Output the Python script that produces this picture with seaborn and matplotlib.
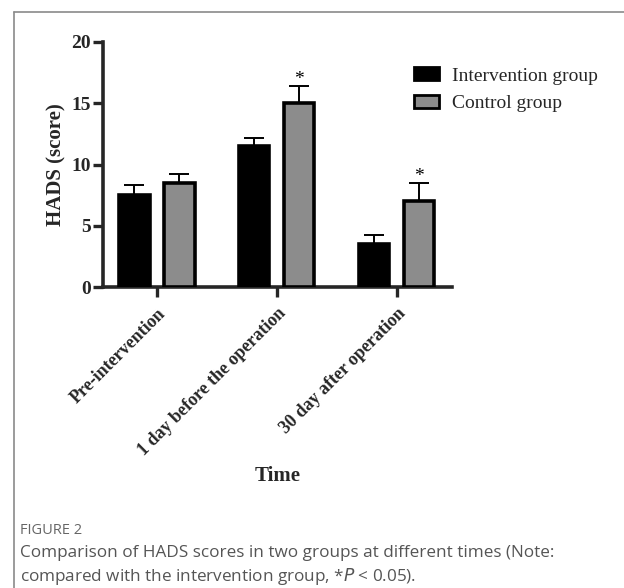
import matplotlib
matplotlib.use("Agg")
import matplotlib.pyplot as plt
import seaborn as sns
import pandas as pd
import numpy as np
from matplotlib.patches import Patch
from matplotlib.lines import Line2D

times = ["Pre-intervention", "1 day before the operation", "30 day after operation"]
groups = ["Intervention group", "Control group"]
intervention_means = [7.5, 11.5, 3.5]
intervention_err = [0.8, 0.7, 0.75]
control_means = [8.5, 15.0, 7.0]
control_err = [0.7, 1.4, 1.5]
significant = [False, True, True]  # control vs intervention
yticks = [0, 5, 10, 15, 20]

sns.set_style("ticks")
plt.rcParams['font.family'] = ['Liberation Serif', 'DejaVu Serif']

df = pd.DataFrame({
    "Time": times * 2,
    "Group": [groups[0]] * 3 + [groups[1]] * 3,
    "HADS": intervention_means + control_means,
})

fig = plt.figure(figsize=(6.24, 5.88), dpi=100)
ax = fig.add_axes([103/624, 1 - 287/588, (452 - 103)/624, (287 - 42)/588])

colors = {groups[0]: "#000000", groups[1]: "#8c8c8c"}
sns.barplot(data=df, x="Time", y="HADS", hue="Group", order=times, hue_order=groups,
            palette=colors, errorbar=None, width=0.75, gap=0.33,
            edgecolor="black", linewidth=2.6, ax=ax, legend=False, zorder=3)

# error bars (upper only) at bar centres
bars = sorted(ax.patches, key=lambda p: p.get_x())
centres = [p.get_x() + p.get_width() / 2 for p in bars]
means = [v for pair in zip(intervention_means, control_means) for v in pair]
errs = [v for pair in zip(intervention_err, control_err) for v in pair]
ax.errorbar(centres, means, yerr=[np.zeros(len(errs)), errs], fmt="none",
            ecolor="black", elinewidth=1.4, capsize=7.5, capthick=1.4, zorder=2)

for i, sig in enumerate(significant):
    if sig:
        c = centres[2 * i + 1]
        ax.text(c, control_means[i] + control_err[i] - 0.15, "*", ha="center", va="bottom",
                fontsize=14, color="black")

ax.set_ylim(0, 20)
ax.set_xlim(-0.45, 2.46)
ax.set_yticks(yticks)
ax.set_yticklabels([str(t) for t in yticks], fontsize=14, fontweight="bold")
ax.set_xticks(range(len(times)))
ax.set_xticklabels(times, rotation=45, ha="right", rotation_mode="anchor",
                   fontsize=13, fontweight="bold")
ax.tick_params(axis="both", width=2.4, length=7, direction="out", pad=2)
ax.tick_params(axis="x", pad=6)
for s in ["left", "bottom"]:
    ax.spines[s].set_linewidth(2.6)
for s in ["top", "right"]:
    ax.spines[s].set_visible(False)

ax.set_ylabel("HADS (score)", fontsize=15, fontweight="bold", labelpad=0)
ax.yaxis.set_label_coords(-0.105, 0.5)
ax.set_xlabel("Time", fontsize=15, fontweight="bold")
ax.xaxis.set_label_coords(0.5, -0.73)

handles = [Patch(facecolor=colors[g], edgecolor="black", linewidth=2.0) for g in groups]
fig.legend(handles, groups, loc="upper left", bbox_to_anchor=(396/624, 1 - 50/588),
           frameon=False, fontsize=14, handlelength=1.3, handleheight=0.6,
           labelspacing=0.55, handletextpad=0.7)

# frame lines of the figure panel
fig.add_artist(Line2D([14/624, 1.0], [1 - 12/588, 1 - 12/588], color="#8a8a8a", lw=1.2))
fig.add_artist(Line2D([14/624, 14/624], [0, 1 - 12/588], color="#8a8a8a", lw=1.2))

# caption
fig.text(20/624, 1 - 531/588, "FIGURE 2", fontsize=10.5, color="#666666",
         family=["Open Sans", "DejaVu Sans"], va="center", ha="left")
fig.text(20/624, 1 - 566/588,
         "Comparison of HADS scores in two groups at different times (Note:\n"
         "compared with the intervention group, *$\\it{P}$ < 0.05).",
         fontsize=12.3, color="#555555", family=["Open Sans", "DejaVu Sans"],
         va="center", ha="left", linespacing=1.35)

fig.savefig("out.png", dpi=100)
